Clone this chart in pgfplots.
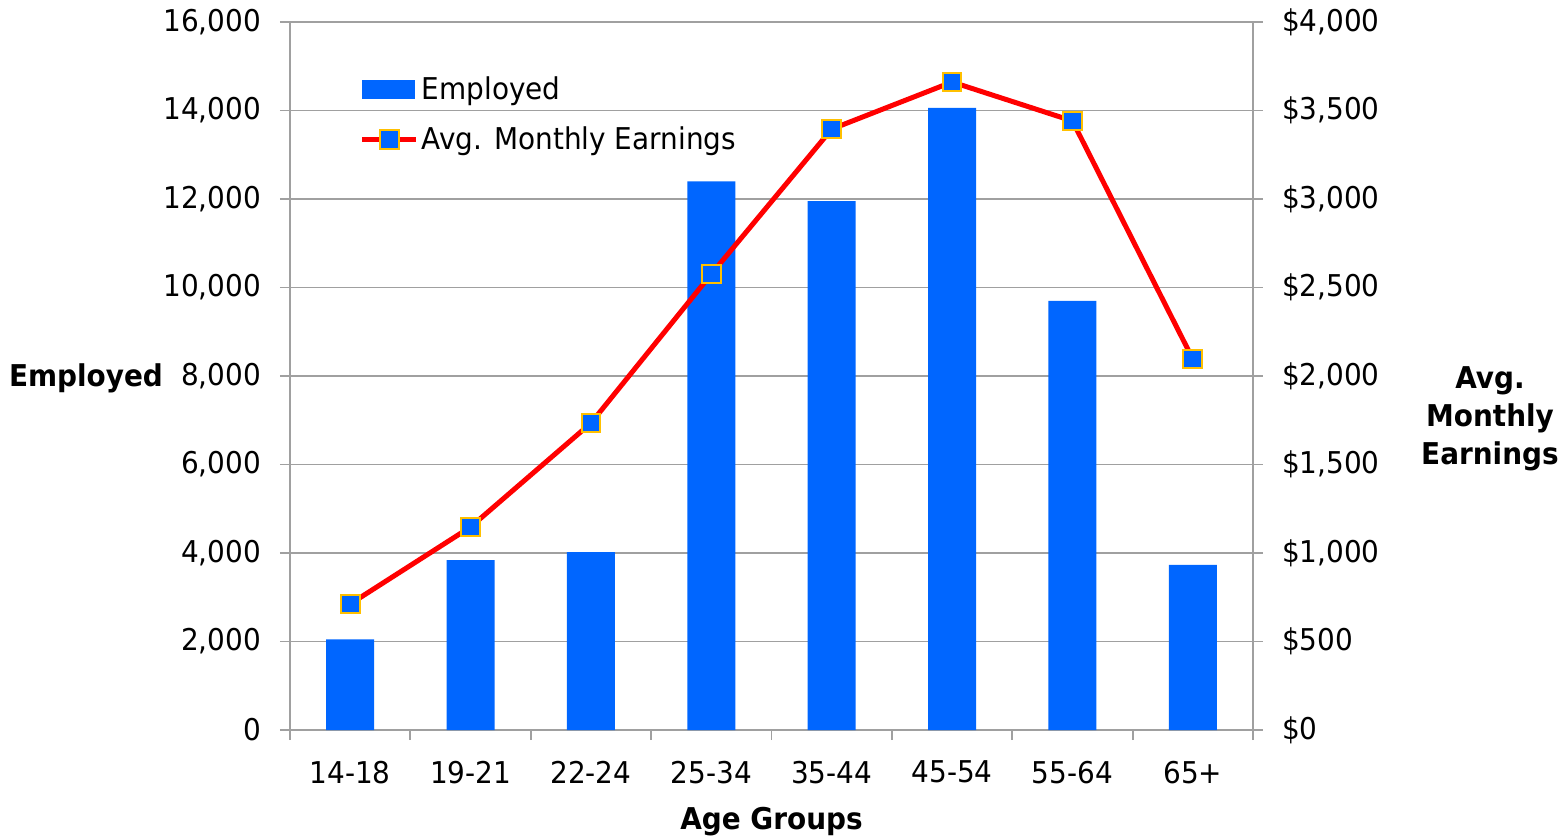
\documentclass[border=0pt]{standalone}
\usepackage{pgfplots}
\pgfplotsset{compat=1.18}
\usepackage{fontspec}
\setmainfont{DejaVu Sans}[FakeStretch=0.93]
\definecolor{barblue}{HTML}{0066FF}
\definecolor{gridgray}{HTML}{A0A0A0}
\definecolor{markgold}{HTML}{FFC000}
\pgfplotsset{
  linelegend/.style={legend image code/.code={%
    \draw[mark repeat=2, mark phase=2, ##1] plot coordinates {(0pt,0pt) (13.5pt,0pt) (27pt,0pt)};}},
  barlegend/.style={legend image code/.code={%
    \fill[barblue] (0pt,-4.5pt) rectangle (26pt,4.5pt);}},
  common/.style={
    scale only axis, width=481.5pt, height=354pt,
    xmin=-0.5, xmax=7.5,
    font=\fontsize{15}{18}\selectfont,
    /pgf/number format/assume math mode=true,
    /pgf/number format/1000 sep={,},
    scaled y ticks=false,
    axis line style={gridgray, line width=0.9pt},
    tick style={gridgray, line width=0.9pt},
    major tick length=5pt,
    tick align=outside,
  }
}

\begin{document}
\begin{tikzpicture}
\useasboundingbox (-145pt,-53.5pt) rectangle (637.5pt,365pt);
\begin{axis}[common,
  ymin=0, ymax=16000, ytick={0,2000,...,16000},
  axis x line*=bottom, axis y line*=left,
  ymajorgrids, grid style={gridgray, line width=0.9pt},
  xtick={-0.5,0.5,...,7.5}, xticklabels={},
  extra x ticks={0,1,...,7},
  extra x tick labels={14-18,19-21,22-24,25-34,35-44,45-54,55-64,65+},
  extra x tick style={major tick length=0pt, grid=none,
    xticklabel style={yshift=-12pt}},
  yticklabel style={xshift=-6pt},
  ylabel={\bfseries Employed},
  ylabel style={rotate=-90, at={(rel axis cs:0,0.497)}, anchor=east, xshift=-60pt},
  xlabel={\bfseries Age Groups},
  xlabel style={at={(rel axis cs:0.5,0)}, anchor=center, yshift=-46pt},
]
\addplot[ybar, bar width=24pt, fill=barblue, draw=none] coordinates {
  (0,2050) (1,3840) (2,4020) (3,12400) (4,11950) (5,14060) (6,9700) (7,3730)
};
\end{axis}
\begin{axis}[common,
  ymin=0, ymax=4000, ytick={0,500,...,4000},
  axis x line=none, axis y line*=right,
  yticklabel={\$\pgfmathprintnumber{\tick}},
  yticklabel style={xshift=6pt},
  ylabel={\bfseries Avg.\\\bfseries Monthly\\\bfseries Earnings},
  ylabel style={rotate=-90, at={(rel axis cs:1,0.44)}, anchor=center, xshift=118.5pt,
    align=center, font=\fontsize{15}{19}\selectfont},
  legend style={at={(0.066,0.935)}, anchor=north west, draw=none, fill=none,
    font=\fontsize{15}{18}\selectfont, row sep=8pt, nodes={inner xsep=1.5pt, inner ysep=2pt}},
  legend cell align=left,
]
\addlegendimage{barlegend}
\addlegendentry{Employed}
\addplot[red, line width=2.5pt, mark=square*, mark size=4.7pt,
  mark options={fill=barblue, draw=markgold, line width=1pt}, linelegend]
  coordinates {
  (0,712) (1,1147) (2,1734) (3,2576) (4,3395) (5,3661) (6,3441) (7,2096)
};
\addlegendentry{Avg. Monthly Earnings}
\end{axis}
\end{tikzpicture}
\end{document}
